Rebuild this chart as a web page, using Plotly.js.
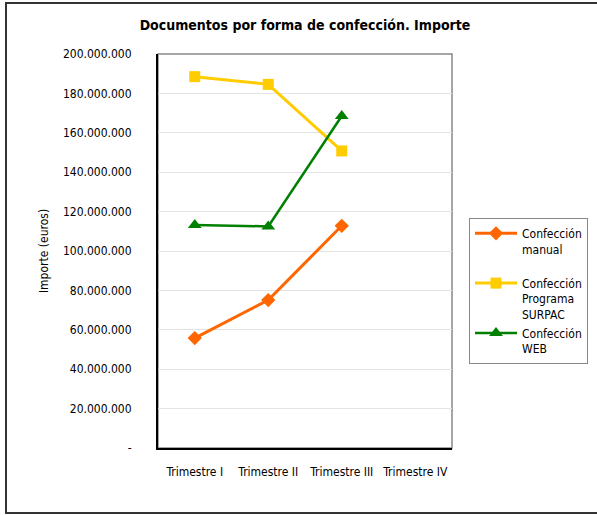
<!DOCTYPE html>
<html>
<head>
<meta charset="utf-8">
<script src="https://cdn.plot.ly/plotly-3.0.1.min.js"></script>
<style>
  html, body { margin: 0; padding: 0; background: #fff; }
  #wrap { position: relative; width: 597px; height: 515px; overflow: hidden; }
  #chart { width: 597px; height: 515px; }
  #frame { position: absolute; left: 5px; top: 2px; width: 610px; height: 508px;
           border: 2px solid #333; pointer-events: none; }
</style>
</head>
<body>
<div id="wrap">
  <div id="chart"></div>
  <div id="frame"></div>
</div>
<script>
const categories = ["Trimestre I", "Trimestre II", "Trimestre III", "Trimestre IV"];
const manual = [55800000, 75100000, 112800000, null];
const surpac = [188500000, 184600000, 150800000, null];
const web = [113200000, 112500000, 168500000, null];
const seriesNames = ["Confección<br>manual<br> ", "Confección<br>Programa<br>SURPAC", "Confección<br>WEB"];
const yTickVals = [0, 20000000, 40000000, 60000000, 80000000, 100000000, 120000000, 140000000, 160000000, 180000000, 200000000];
const yTickText = ["-", "20.000.000", "40.000.000", "60.000.000", "80.000.000", "100.000.000", "120.000.000", "140.000.000", "160.000.000", "180.000.000", "200.000.000"];

const FONT = "'DejaVu Sans Condensed', 'Liberation Sans Narrow', Arial, sans-serif";

const traces = [
  { x: categories, y: manual, name: seriesNames[0], type: "scatter", mode: "lines+markers",
    line: { color: "#FF6600", width: 3 }, marker: { symbol: "diamond", size: 11, color: "#FF6600" } },
  { x: categories, y: surpac, name: seriesNames[1], type: "scatter", mode: "lines+markers",
    line: { color: "#FFCC00", width: 3 }, marker: { symbol: "square", size: 11, color: "#FFCC00" } },
  { x: categories, y: web, name: seriesNames[2], type: "scatter", mode: "lines+markers",
    line: { color: "#008000", width: 2.5 }, marker: { symbol: "triangle-up", size: 12, color: "#008000" } }
];

const layout = {
  width: 597, height: 515,
  margin: { l: 158, r: 145, t: 54, b: 67 },
  paper_bgcolor: "#ffffff", plot_bgcolor: "#ffffff",
  font: { family: FONT, size: 12, color: "#000" },
  title: { text: "<b>Documentos por forma de confección. Importe</b>",
           font: { family: FONT, size: 14, color: "#000" },
           x: 0.5, xref: "paper", y: 0.951, yanchor: "middle" },
  showlegend: true,
  legend: { xref: "container", yref: "container", x: 469 / 597, y: 1 - 218 / 515,
            xanchor: "left", yanchor: "top", valign: "top",
            bgcolor: "#fff", bordercolor: "#888", borderwidth: 1, itemwidth: 42,
            font: { family: FONT, size: 12, color: "#000" } },
  xaxis: { type: "category", categoryorder: "array", categoryarray: categories,
           range: [-0.5, 3.5], showgrid: false, zeroline: false,
           showline: true, linecolor: "#000", linewidth: 2, ticks: "",
           ticklabelstandoff: 12, tickfont: { family: FONT, size: 12, color: "#000" } },
  yaxis: { range: [0, 200000000], tickvals: yTickVals, ticktext: yTickText,
           showgrid: true, gridcolor: "#e3e3e3", gridwidth: 1, zeroline: false,
           showline: true, linecolor: "#000", linewidth: 2, ticks: "",
           ticklabelstandoff: 22, tickfont: { family: FONT, size: 12, color: "#000" },
           title: { text: "Importe (euros)", standoff: 12, font: { family: FONT, size: 12, color: "#000" } } },
  shapes: [
    { type: "rect", xref: "paper", yref: "paper", x0: 0, x1: 1, y0: 0, y1: 1,
      line: { color: "#888", width: 1.5 }, layer: "below" }
  ]
};

Plotly.newPlot("chart", traces, layout, { displayModeBar: false, staticPlot: true });
</script>
</body>
</html>
